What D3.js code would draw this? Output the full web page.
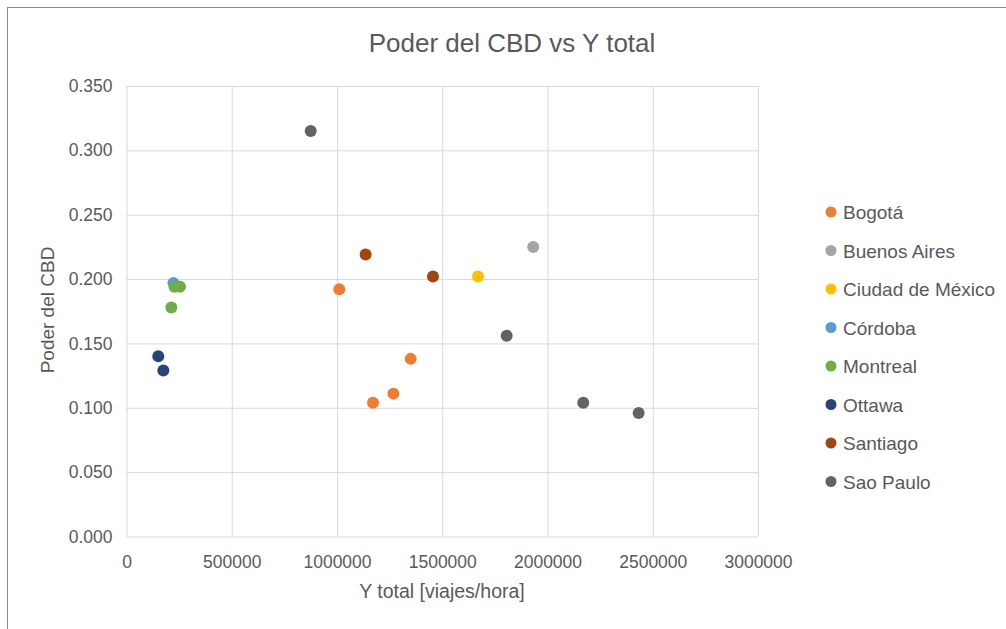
<!DOCTYPE html>
<html>
<head>
<meta charset="utf-8">
<script src="https://cdn.jsdelivr.net/npm/d3@7"></script>
<style>
  html, body { margin: 0; padding: 0; background: #fff; }
  svg { display: block; font-family: "Liberation Sans", Arial, sans-serif; }
</style>
</head>
<body>
<svg id="chart" width="1006" height="629"></svg>
<script>
// ---- data ----
const cities = ["Bogotá", "Buenos Aires", "Ciudad de México", "Córdoba", "Montreal", "Ottawa", "Santiago", "Sao Paulo"];
const cityColors = ["#ED7D31", "#A5A5A5", "#FFC000", "#5B9BD5", "#70AD47", "#264478", "#9E480E", "#636363"];

const bogotaX = [1011000, 1350000, 1268000, 1171000];
const bogotaY = [0.192, 0.138, 0.111, 0.104];
const buenosAiresX = [1932000];
const buenosAiresY = [0.225];
const cdmxX = [1670000];
const cdmxY = [0.202];
const cordobaX = [223000];
const cordobaY = [0.197];
const montrealX = [228000, 254000, 213000];
const montrealY = [0.194, 0.194, 0.178];
const ottawaX = [151000, 175000];
const ottawaY = [0.140, 0.129];
const santiagoX = [1136000, 1456000];
const santiagoY = [0.219, 0.202];
const saoPauloX = [875000, 1806000, 2170000, 2433000];
const saoPauloY = [0.315, 0.156, 0.104, 0.096];

const xTicks = [0, 500000, 1000000, 1500000, 2000000, 2500000, 3000000];
const yTicks = [0, 0.05, 0.10, 0.15, 0.20, 0.25, 0.30, 0.35];

const seriesX = [bogotaX, buenosAiresX, cdmxX, cordobaX, montrealX, ottawaX, santiagoX, saoPauloX];
const seriesY = [bogotaY, buenosAiresY, cdmxY, cordobaY, montrealY, ottawaY, santiagoY, saoPauloY];

// ---- layout ----
const svg = d3.select("#chart");
const plot = { left: 126.5, right: 758, top: 86, bottom: 536.5 };
const textColor = "#595959";
const gridColor = "#d9d9d9";
const fontFam = "'Liberation Sans', Arial, sans-serif";

const x = d3.scaleLinear().domain([0, 3000000]).range([plot.left, plot.right]);
const y = d3.scaleLinear().domain([0, 0.35]).range([plot.bottom, plot.top]);

// outer border
svg.append("rect").attr("x", 7.5).attr("y", 7.5).attr("width", 1010).attr("height", 640)
  .attr("fill", "none").attr("stroke", "#898989").attr("stroke-width", 1);

// grid + axes
const gx = svg.append("g").attr("transform", `translate(0,${plot.bottom})`)
  .call(d3.axisBottom(x).tickValues(xTicks).tickSize(-(plot.bottom - plot.top)).tickFormat(d3.format("d")).tickPadding(19));
gx.select(".domain").remove();
gx.selectAll(".tick line").attr("stroke", gridColor).attr("stroke-width", 1);
gx.selectAll(".tick text").attr("fill", textColor).style("font-size", "17.5px").style("font-family", fontFam);

const gy = svg.append("g").attr("transform", `translate(${plot.left},0)`)
  .call(d3.axisLeft(y).tickValues(yTicks).tickSize(-(plot.right - plot.left)).tickFormat(d3.format(".3f")).tickPadding(14));
gy.select(".domain").remove();
gy.selectAll(".tick line").attr("stroke", gridColor).attr("stroke-width", 1);
gy.selectAll(".tick text").attr("fill", textColor).style("font-size", "17.5px").style("font-family", fontFam);

// points
seriesX.forEach((xs, i) => {
  const pts = xs.map((v, j) => [v, seriesY[i][j]]);
  svg.append("g").selectAll("circle").data(pts).join("circle")
    .attr("cx", d => x(d[0])).attr("cy", d => y(d[1])).attr("r", 6)
    .attr("fill", cityColors[i]);
});

// title
svg.append("text").attr("x", 512).attr("y", 52).attr("text-anchor", "middle")
  .attr("fill", textColor).style("font-size", "26px").text("Poder del CBD vs Y total");

// axis titles
svg.append("text").attr("x", 442).attr("y", 598).attr("text-anchor", "middle")
  .attr("fill", textColor).style("font-size", "19.5px").text("Y total [viajes/hora]");
svg.append("text").attr("transform", "translate(54,310) rotate(-90)").attr("text-anchor", "middle")
  .attr("fill", textColor).style("font-size", "19px").text("Poder del CBD");

// legend
const leg = svg.append("g");
cities.forEach((c, i) => {
  const yy = 212 + i * 38.5;
  leg.append("circle").attr("cx", 831).attr("cy", yy).attr("r", 5.5).attr("fill", cityColors[i]);
  leg.append("text").attr("x", 843).attr("y", yy + 7).attr("fill", textColor)
    .style("font-size", "19px").text(c);
});
</script>
</body>
</html>
